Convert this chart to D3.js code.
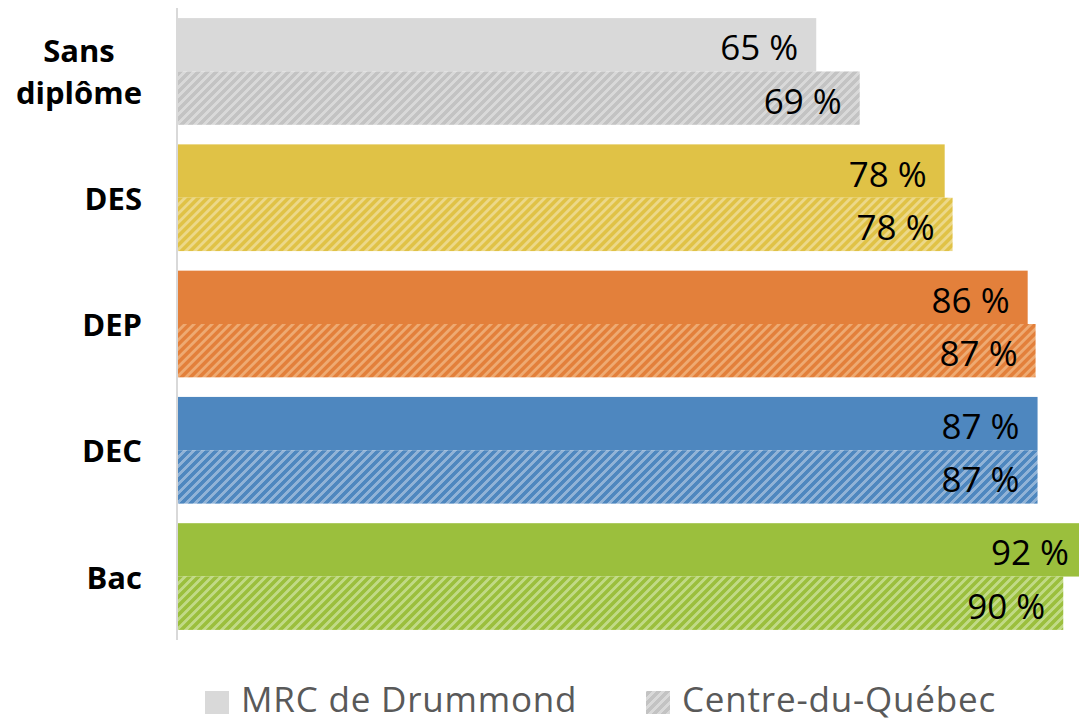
<!DOCTYPE html>
<html>
<head>
<meta charset="utf-8">
<script src="https://cdn.jsdelivr.net/npm/d3@7"></script>
<style>
  body { margin: 0; background: #fff; }
</style>
</head>
<body>
<div class="canvas"></div>
<script>
const categories = ['Sans diplôme', 'DES', 'DEP', 'DEC', 'Bac'];
const seriesNames = ['MRC de Drummond', 'Centre-du-Québec'];
const mrc = [64.6, 77.6, 86.0, 87.0, 92.0];
const cdq = [69.0, 78.4, 86.8, 87.0, 89.6];
const colors = ['#d9d9d9', '#e0c246', '#e3803b', '#4e87bf', '#9bbf3d'];
const lightColors = ['#d9d9d9', '#ecd889', '#eeaa72', '#91b3d7', '#c1da86'];
const stripeColors = ['#c3c3c3', '#e0c246', '#e3803b', '#4e87bf', '#9bbf3d'];

const width = 1079, height = 721;

const svg = d3.select('.canvas')
  .append('svg')
  .attr('width', width)
  .attr('height', height)
  .style('font-family', '"Open Sans", "Noto Sans", sans-serif');

// diagonal hatch, one per colour
const defs = svg.append('defs');
const t = 9;
categories.forEach((c, i) => {
  const p = defs.append('pattern')
    .attr('id', 'hatch' + i)
    .attr('patternUnits', 'userSpaceOnUse')
    .attr('width', t)
    .attr('height', t);
  p.append('rect').attr('width', t).attr('height', t).attr('fill', lightColors[i]);
  p.append('path')
    .attr('d', `M-2,2 L2,-2 M0,${t} L${t},0 M${t - 2},${t + 2} L${t + 2},${t - 2}`)
    .attr('stroke', stripeColors[i])
    .attr('stroke-width', 3.3)
    .attr('shape-rendering', 'crispEdges');
});

const x = d3.scaleLinear()
  .domain([0, 100])
  .range([178, 1166]);

const y = d3.scaleBand()
  .domain(categories)
  .range([8, 640])
  .paddingInner(0.155)
  .paddingOuter(0.08);

const sub = d3.scaleBand()
  .domain(seriesNames)
  .range([0, y.bandwidth()]);

const rows = categories.map((c, i) => ({ cat: c, i: i, vals: [mrc[i], cdq[i]] }));

const groups = svg.selectAll('g.cat')
  .data(rows)
  .enter()
  .append('g')
  .attr('class', 'cat')
  .attr('transform', d => `translate(0,${y(d.cat)})`);

groups.selectAll('rect')
  .data(d => d.vals.map((v, k) => ({ v: v, k: k, i: d.i })))
  .enter()
  .append('rect')
  .attr('x', x(0))
  .attr('y', d => sub(seriesNames[d.k]))
  .attr('width', d => x(d.v) - x(0))
  .attr('height', sub.bandwidth())
  .attr('fill', d => d.k === 0 ? colors[d.i] : `url(#hatch${d.i})`);

groups.selectAll('text.val')
  .data(d => d.vals.map((v, k) => ({ v: v, k: k })))
  .enter()
  .append('text')
  .attr('class', 'val')
  .attr('x', d => x(d.v) - 18)
  .attr('y', d => sub(seriesNames[d.k]) + sub.bandwidth() / 2 + 2)
  .attr('text-anchor', 'end')
  .attr('dominant-baseline', 'central')
  .attr('font-size', 35)
  .attr('fill', '#000')
  .text(d => d3.format('.0f')(d.v) + ' %');

// axis line
svg.append('line')
  .attr('x1', x(0) - 1).attr('x2', x(0) - 1)
  .attr('y1', 8).attr('y2', 640)
  .attr('stroke', '#d9d9d9')
  .attr('stroke-width', 2);

// category labels
const labelRight = 142;
rows.forEach(d => {
  const lines = d.cat === 'Sans diplôme' ? ['Sans', 'diplôme'] : [d.cat];
  const cy = y(d.cat) + y.bandwidth() / 2;
  const txt = svg.append('text')
    .attr('font-size', 31)
    .attr('font-weight', 'bold')
    .attr('fill', '#000')
    .attr('text-anchor', 'middle');
  lines.forEach((l, j) => {
    txt.append('tspan')
      .attr('x', 0)
      .attr('y', cy + (j - (lines.length - 1) / 2) * 42)
      .attr('dominant-baseline', 'central')
      .text(l);
  });
  const w = txt.node().getBBox().width;
  txt.selectAll('tspan').attr('x', labelRight - w / 2);
});

// legend
const legend = svg.append('g');
const legendX = [205, 646];
seriesNames.forEach((s, k) => {
  legend.append('rect')
    .attr('x', legendX[k])
    .attr('y', 691)
    .attr('width', 24)
    .attr('height', 23)
    .attr('fill', k === 0 ? colors[0] : 'url(#hatch0)');
  legend.append('text')
    .attr('x', legendX[k] + 36)
    .attr('y', 712)
    .attr('font-size', 35)
    .attr('letter-spacing', 0.8)
    .attr('fill', '#595959')
    .text(s);
});
</script>
</body>
</html>
